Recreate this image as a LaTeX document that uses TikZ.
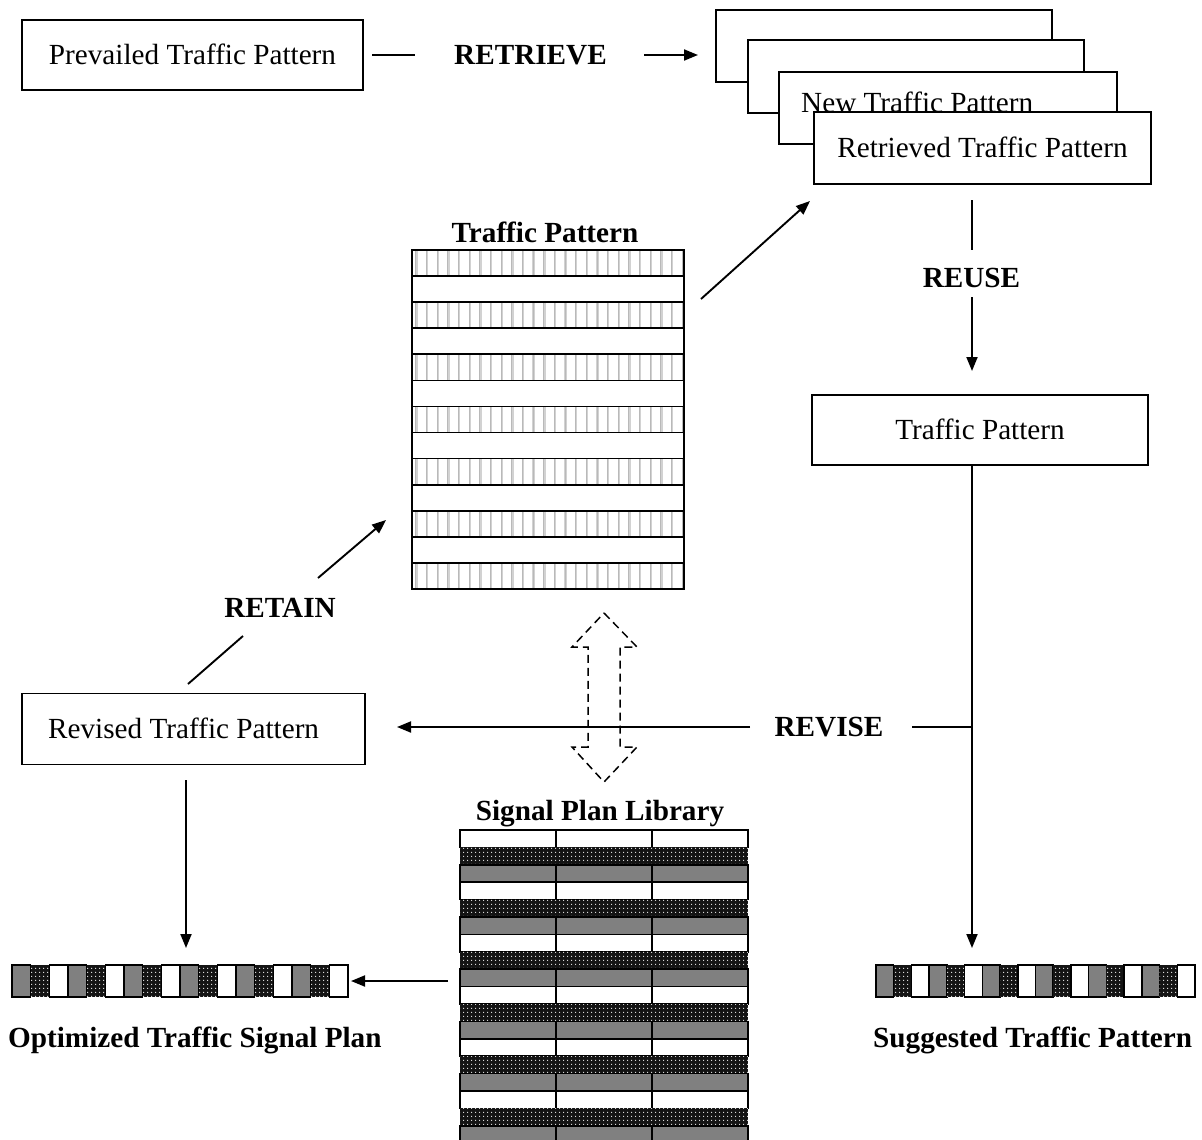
\documentclass[tikz,border=0pt]{standalone}
\usepackage{fontspec}
\setmainfont{Liberation Serif}
\usetikzlibrary{arrows.meta,patterns.meta}

% white dot grid used for the dark textured cells
\tikzdeclarepattern{
  name=sigdots,
  type=uncolored,
  bounding box={(-2pt,-2pt) and (2pt,2pt)},
  tile size={(4pt,4pt)},
  code={\pgfpathcircle{\pgfpointorigin}{0.75pt}\pgfusepath{fill}}
}

\definecolor{cellgray}{HTML}{808080}

\tikzset{
  box/.style={draw, line width=1.7pt, fill=white, inner sep=0pt, outer sep=0pt},
  txt/.style={inner sep=0pt, font=\fontsize{29.2}{34}\selectfont},
  lbl/.style={inner sep=0pt, anchor=base, font=\fontsize{29.2}{34}\selectfont\bfseries},
  conn/.style={line width=1.9pt},
  arr/.style={line width=1.9pt, -{Triangle[length=14pt,width=11pt]}},
  grid/.style={line width=1.7pt},
  dotcell/.style={fill=black!92, postaction={pattern=sigdots, pattern color=white!85!gray}},
  graycell/.style={fill=cellgray, draw=black, line width=1.5pt},
  whitecell/.style={fill=white, draw=black, line width=1.5pt},
}

\begin{document}
\begin{tikzpicture}[x=1pt, y=-1pt]
\useasboundingbox (0,0) rectangle (1202,1140);

% ---------- top row ----------
\node[box, minimum width=341pt, minimum height=70pt] (prev) at (192.5,55) {};
\node[txt, anchor=base] (prevtxt) at (192.5,64.5) {Prevailed Traffic Pattern};

\node[lbl] (retrieve) at (530.5,64.5) {RETRIEVE};

% stacked pattern cards
\node[box, minimum width=336pt, minimum height=72pt] (s1) at (884,46) {};
\node[box, minimum width=336pt, minimum height=73pt] (s2) at (916,76.5) {};
\node[box, minimum width=338pt, minimum height=72pt] (s3) at (948,108) {};
\node[txt, anchor=base west] (newtxt) at (801,112) {New Traffic Pattern};
\node[box, minimum width=337pt, minimum height=72pt] (s4) at (982.5,148) {};
\node[txt, anchor=base] (rettxt) at (982.5,157.5) {Retrieved Traffic Pattern};

\coordinate (r1) at (372,55);
\coordinate (r2) at (415,55);
\coordinate (r3) at (644,55);
\coordinate (r4) at (698,55);
\draw[conn] (r1) -- (r2);
\draw[arr] (r3) -- (r4);

% ---------- traffic pattern table ----------
\node[lbl] (tptitle) at (545,242) {Traffic Pattern};
\node[inner sep=0pt, minimum width=272pt, minimum height=339pt] (tp) at (548,419.5) {};
\foreach \i in {0,2,...,12} {
  \pgfmathsetmacro{\ya}{250+\i*26.077}
  \pgfmathsetmacro{\yb}{\ya+26.077}
  \foreach \k in {0,...,25} {
    \draw[gray!35, line width=2.4pt] (416.5+\k*10.65,\ya) -- (416.5+\k*10.65,\yb);
    \draw[gray!55, line width=0.7pt] (415.8+\k*10.65,\ya) -- (415.8+\k*10.65,\yb);
  }
}
\foreach \i in {1,...,12} {
  \draw[grid] (412,250+\i*26.077) -- (684,250+\i*26.077);
}
\draw[grid] (412,250) rectangle (684,589);

% ---------- right column ----------
\node[lbl] (reuse) at (971.5,287.5) {REUSE};
\coordinate (u1) at (972,200);
\coordinate (u2) at (972,250);
\coordinate (u3) at (972,297);
\coordinate (u4) at (972,371);
\draw[conn] (u1) -- (u2);
\draw[arr] (u3) -- (u4);

\node[box, minimum width=336pt, minimum height=70pt] (tpr) at (980,430) {};
\node[txt, anchor=base] (tprtxt) at (980,439.5) {Traffic Pattern};

\coordinate (sugtop) at (972,948);
\coordinate (junc) at (972,727);
\draw[arr] (tpr.south -| junc) -- (sugtop);

% arrow from the table to the retrieved card
\coordinate (t1) at (701,299);
\coordinate (t2) at (810,201);
\draw[arr] (t1) -- (t2);

% ---------- revise ----------
\node[lbl] (revise) at (829,736.5) {REVISE};
\coordinate (v1) at (912,727);
\coordinate (v2) at (750,727);
\coordinate (v3) at (397,727);
\draw[conn] (junc) -- (v1);
\draw[arr] (v2) -- (v3);

\node[box, minimum width=343pt, minimum height=71pt] (rev) at (193.5,729) {};
\node[txt, anchor=base west] (revtxt) at (48,738.5) {Revised Traffic Pattern};

% ---------- retain ----------
\node[lbl] (retain) at (280,617.5) {RETAIN};
\coordinate (a1) at (188,684);
\coordinate (a2) at (243,636);
\coordinate (a3) at (318,578);
\coordinate (a4) at (386,520);
\draw[conn] (a1) -- (a2);
\draw[arr] (a3) -- (a4);

% ---------- dashed two-way block arrow ----------
\draw[line width=1.5pt, dash pattern=on 8pt off 5pt, line join=miter]
  (604,613) -- (637,647) -- (620,647) -- (620,747) -- (637,747) -- (604,782)
  -- (572,747) -- (588,747) -- (588,647) -- (572,647) -- cycle;

% ---------- signal plan library ----------
\node[lbl] (spltitle) at (600,820) {Signal Plan Library};
\node[inner sep=0pt, minimum width=288pt, minimum height=313pt] (spl) at (604,986.5) {};
\foreach \r in {0,...,17} {
  \pgfmathsetmacro{\ya}{830+\r*17.4}
  \pgfmathsetmacro{\yb}{\ya+17.4}
  \pgfmathtruncatemacro{\kind}{mod(\r,3)}
  \ifnum\kind=1
    \path[dotcell] (460,\ya) rectangle (748,\yb);
  \else
    \foreach \c in {0,1,2} {
      \ifnum\kind=0
        \path[whitecell] (460+\c*96,\ya) rectangle (556+\c*96,\yb);
      \else
        \path[graycell] (460+\c*96,\ya) rectangle (556+\c*96,\yb);
      \fi
    }
  \fi
}

% ---------- signal strips ----------
\foreach \k in {0,...,17} {
  \pgfmathsetmacro{\xa}{12+\k*18.667}
  \pgfmathsetmacro{\xb}{\xa+18.667}
  \pgfmathtruncatemacro{\kind}{mod(\k,3)}
  \ifcase\kind
    \path[graycell] (\xa,965) rectangle (\xb,997);
  \or
    \path[dotcell] (\xa,965) rectangle (\xb,997);
  \else
    \path[whitecell] (\xa,965) rectangle (\xb,997);
  \fi
}
\node[inner sep=0pt, minimum width=336pt, minimum height=32pt] (optstrip) at (180,981) {};

\foreach \k in {0,...,17} {
  \pgfmathsetmacro{\xa}{876+\k*17.72}
  \pgfmathsetmacro{\xb}{\xa+17.72}
  \pgfmathtruncatemacro{\kind}{mod(\k,3)}
  \ifcase\kind
    \path[graycell] (\xa,965) rectangle (\xb,997);
  \or
    \path[dotcell] (\xa,965) rectangle (\xb,997);
  \else
    \path[whitecell] (\xa,965) rectangle (\xb,997);
  \fi
}
\node[inner sep=0pt, minimum width=319pt, minimum height=32pt] (sugstrip) at (1035.5,981) {};

\coordinate (revbot) at (186,780);
\coordinate (optin) at (186,948);
\draw[arr] (revbot) -- (optin);

\coordinate (l1) at (448,981);
\coordinate (l2) at (351,981);
\draw[arr] (l1) -- (l2);

\node[lbl, anchor=base west] (optlbl) at (8,1047) {Optimized Traffic Signal Plan};
\node[lbl, anchor=base west] (suglbl) at (873,1047) {Suggested Traffic Pattern};

\end{tikzpicture}
\end{document}
